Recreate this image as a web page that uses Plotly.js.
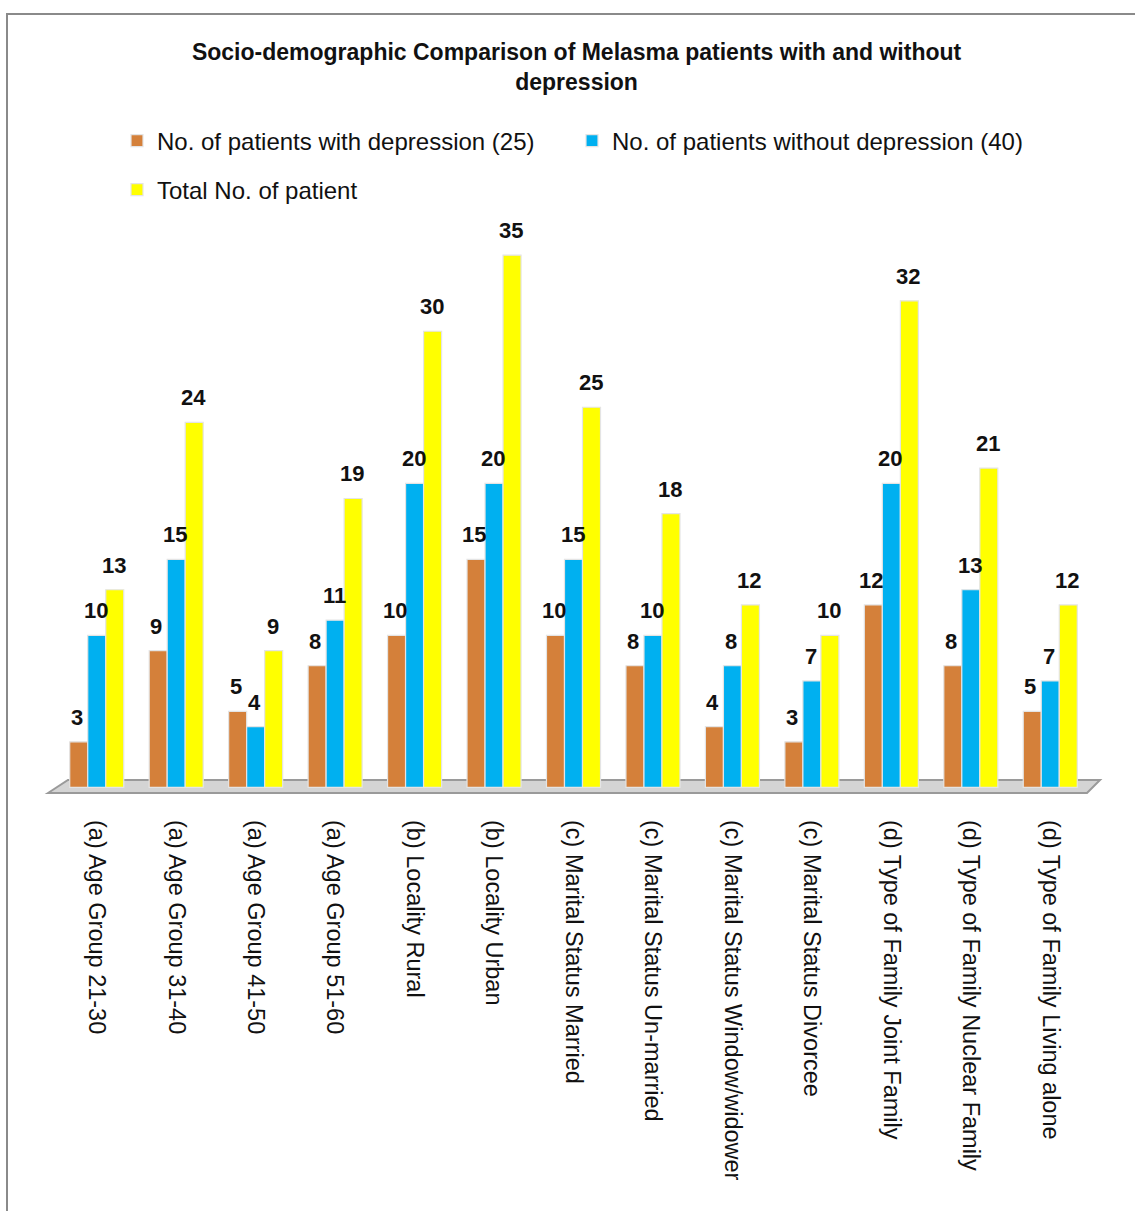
<!DOCTYPE html>
<html>
<head>
<meta charset="utf-8">
<script src="https://cdn.plot.ly/plotly-3.0.1.min.js"></script>
<style>
  html, body { margin: 0; padding: 0; background: #fff; overflow: hidden; }
  #frame { position: absolute; left: 6px; top: 13px; width: 1140px; height: 1210px; border: 2px solid #8a8a8a; box-sizing: border-box; pointer-events: none; z-index: 5; }
  #chart { width: 1135px; height: 1211px; }
</style>
</head>
<body>
<div id="frame"></div>
<div id="chart"></div>
<script>
const categories = [
  "(a) Age Group 21-30",
  "(a) Age Group 31-40",
  "(a) Age Group 41-50",
  "(a) Age Group 51-60",
  "(b) Locality Rural",
  "(b) Locality Urban",
  "(c) Marital Status Married",
  "(c) Marital Status Un-married",
  "(c) Marital Status Window/widower",
  "(c) Marital Status Divorcee",
  "(d) Type of Family Joint Family",
  "(d) Type of Family Nuclear Family",
  "(d) Type of Family Living alone"
];
const withDepression    = [3, 9, 5, 8, 10, 15, 10, 8, 4, 3, 12, 8, 5];
const withoutDepression = [10, 15, 4, 11, 20, 20, 15, 10, 8, 7, 20, 13, 7];
const totalPatients     = [13, 24, 9, 19, 30, 35, 25, 18, 12, 10, 32, 21, 12];

const seriesNames = [
  "No. of patients with depression (25)",
  "No. of patients without depression (40)",
  "Total No. of patient"
];
const seriesColors = ["#D4803A", "#00B0F0", "#FFFF00"];

const FONT = "Liberation Sans, Arial, sans-serif";

function barTrace(name, values, color, legend) {
  return {
    type: "bar",
    name: name,
    x: categories,
    y: values,
    legend: legend,
    marker: { color: color, line: { color: "#e4e4e4", width: 1.2 } },
    hoverinfo: "x+y"
  };
}

const data = [
  barTrace(seriesNames[0], withDepression, seriesColors[0], "legend"),
  barTrace(seriesNames[1], withoutDepression, seriesColors[1], "legend"),
  barTrace(seriesNames[2], totalPatients, seriesColors[2], "legend2")
];

// value labels placed on the data scale, shifted to each bar of the group
const seriesValues = [withDepression, withoutDepression, totalPatients];
const labelShift = [-20, -1, 17];
const annotations = [];
seriesValues.forEach((vals, s) => {
  vals.forEach((v, i) => {
    annotations.push({
      x: categories[i], y: v, xref: "x", yref: "y",
      text: "<b>" + v + "</b>",
      showarrow: false,
      xanchor: "center", yanchor: "bottom",
      xshift: labelShift[s], yshift: 10,
      font: { family: FONT, size: 22, color: "#111" }
    });
  });
});

const layout = {
  width: 1135,
  height: 1211,
  paper_bgcolor: "#ffffff",
  plot_bgcolor: "rgba(0,0,0,0)",
  margin: { l: 57, r: 45, t: 240, b: 416 },
  barmode: "group",
  bargap: 0.32,
  bargroupgap: 0,
  title: {
    text: "<b>Socio-demographic Comparison of Melasma patients with and without<br>depression</b>",
    font: { family: FONT, size: 23, color: "#111" },
    x: 0.508, xref: "container", xanchor: "center",
    y: 1 - 60 / 1211, yref: "container", yanchor: "middle"
  },
  showlegend: true,
  legend: {
    orientation: "h",
    x: 117 / 1135, xref: "container", xanchor: "left",
    y: 1 - 141 / 1211, yref: "container", yanchor: "middle",
    font: { family: FONT, size: 24, color: "#111" },
    entrywidth: 410,
    itemclick: false
  },
  legend2: {
    orientation: "h",
    x: 117 / 1135, xref: "container", xanchor: "left",
    y: 1 - 190 / 1211, yref: "container", yanchor: "middle",
    font: { family: FONT, size: 24, color: "#111" }
  },
  xaxis: {
    type: "category",
    tickangle: 90,
    ticks: "",
    showline: false,
    showgrid: false,
    ticklabelstandoff: 24,
    tickfont: { family: FONT, size: 23.5, color: "#111" },
    automargin: false
  },
  yaxis: {
    range: [-0.5, 36],
    visible: false,
    showgrid: false,
    zeroline: false
  },
  annotations: annotations,
  shapes: [
    {
      type: "path",
      xref: "paper", yref: "paper",
      path: "M -0.0087,0.0036 L 0.0106,0.027 L 1.0097,0.027 L 0.9971,0.0036 Z",
      fillcolor: "#d4d4d4",
      line: { color: "#9a9a9a", width: 2 },
      layer: "below"
    }
  ]
};

Plotly.newPlot("chart", data, layout, { displayModeBar: false, staticPlot: true });
</script>
</body>
</html>
